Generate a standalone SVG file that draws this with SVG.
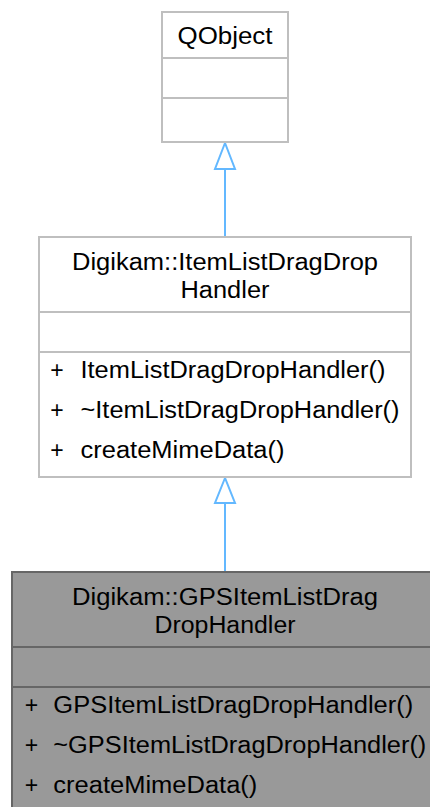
<svg xmlns="http://www.w3.org/2000/svg" width="430" height="807" viewBox="0 0 430 807">
<style>
.box{fill:#ffffff;stroke:#bfbfbf;stroke-width:2}
.cur{fill:#999999;stroke:#666666;stroke-width:2}
.t{font-family:"Liberation Sans",Arial,Helvetica,sans-serif;font-size:23px;fill:#000000}
.c{text-anchor:middle}
.edge{stroke:#63b8ff;stroke-width:2;fill:none}
.head{fill:#ffffff;stroke:#63b8ff;stroke-width:2}
</style>
<rect width="430" height="807" fill="#ffffff"/>
<g id="connectors">
<line class="edge" x1="225" y1="169" x2="225" y2="237"/>
<polygon class="head" points="225,143 215,169 235,169"/>
<line class="edge" x1="225" y1="503" x2="225" y2="572"/>
<polygon class="head" points="225,478 215,503 235,503"/>
</g>
<g id="node_QObject">
<rect class="box" x="162" y="12" width="126" height="130"/>
<line class="box" x1="162" y1="58" x2="288" y2="58"/>
<line class="box" x1="162" y1="98" x2="288" y2="98"/>
<text class="t c" x="225" y="44" textLength="95" lengthAdjust="spacingAndGlyphs">QObject</text>
</g>
<g id="node_ItemListDragDropHandler">
<rect class="box" x="39" y="237" width="372" height="240"/>
<line class="box" x1="39" y1="312" x2="411" y2="312"/>
<line class="box" x1="39" y1="352" x2="411" y2="352"/>
<text class="t c" x="225" y="270" textLength="306" lengthAdjust="spacingAndGlyphs">Digikam::ItemListDragDrop</text>
<text class="t c" x="225" y="298" textLength="89" lengthAdjust="spacingAndGlyphs">Handler</text>
<text class="t c" x="57" y="378">+</text>
<text class="t" x="80.5" y="378" textLength="305" lengthAdjust="spacingAndGlyphs">ItemListDragDropHandler()</text>
<text class="t c" x="57" y="418">+</text>
<text class="t" x="80.5" y="418" textLength="319" lengthAdjust="spacingAndGlyphs">~ItemListDragDropHandler()</text>
<text class="t c" x="57" y="458">+</text>
<text class="t" x="80.5" y="458" textLength="204" lengthAdjust="spacingAndGlyphs">createMimeData()</text>
</g>
<g id="node_GPSItemListDragDropHandler">
<rect class="cur" x="12" y="572" width="426" height="250"/>
<line class="cur" x1="12" y1="647" x2="438" y2="647"/>
<line class="cur" x1="12" y1="687" x2="438" y2="687"/>
<text class="t c" x="225" y="605" textLength="306" lengthAdjust="spacingAndGlyphs">Digikam::GPSItemListDrag</text>
<text class="t c" x="225" y="633" textLength="141" lengthAdjust="spacingAndGlyphs">DropHandler</text>
<text class="t c" x="31.5" y="713">+</text>
<text class="t" x="53.3" y="713" textLength="360" lengthAdjust="spacingAndGlyphs">GPSItemListDragDropHandler()</text>
<text class="t c" x="31.5" y="753">+</text>
<text class="t" x="53.3" y="753" textLength="373" lengthAdjust="spacingAndGlyphs">~GPSItemListDragDropHandler()</text>
<text class="t c" x="31.5" y="792.5">+</text>
<text class="t" x="53.3" y="792.5" textLength="204" lengthAdjust="spacingAndGlyphs">createMimeData()</text>
</g>
</svg>
